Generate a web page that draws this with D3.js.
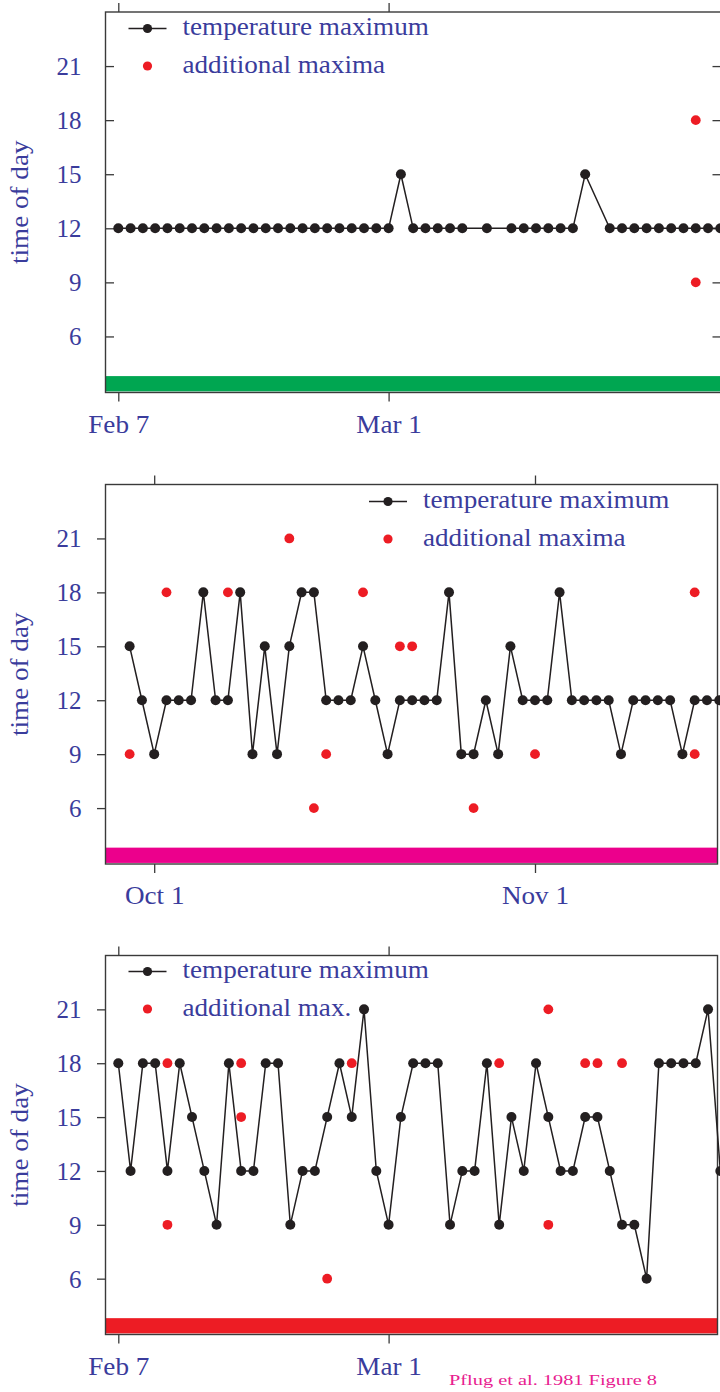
<!DOCTYPE html>
<html><head><meta charset="utf-8">
<script src="https://cdn.jsdelivr.net/npm/d3@7"></script>
<style>body{margin:0;background:#fff;} svg{display:block;}</style>
</head><body>
<svg id="c" width="720" height="1392"></svg>
<script>
// ---------------- data ----------------
const yTickValues = [6, 9, 12, 15, 18, 21];
const yLabel = "time of day";

const xTickDates1 = ["1981-02-07", "1981-03-01"];
const xTickLabels1 = ["Feb 7", "Mar 1"];
const xTickDates2 = ["1980-10-01", "1980-11-01"];
const xTickLabels2 = ["Oct 1", "Nov 1"];

// panel 1 (winter, daily from Feb 7); null = no observation
const start1 = "1981-02-07";
const temps1 = [12,12,12,12,12,12,12,12,12,12,12,12,12,12,12,12,12,12,12,12,12,12,12,
                15,12,12,12,12,12,null,12,null,12,12,12,12,12,12,15,null,
                12,12,12,12,12,12,12,12,12,12];
const extraDays1 = [47, 47];
const extraVals1 = [18, 9];
const legend1 = ["temperature maximum", "additional maxima"];

// panel 2 (autumn, daily from Sep 29)
const start2 = "1980-09-29";
const temps2 = [15,12,9,12,12,12,18,12,12,18,9,15,9,15,18,18,12,12,12,15,12,9,12,12,12,
                12,18,9,9,12,9,15,12,12,12,18,12,12,12,12,9,12,12,12,12,9,12,12,12];
const extraDays2 = [0, 3, 8, 13, 15, 16, 19, 22, 23, 28, 33, 46, 46];
const extraVals2 = [9, 18, 18, 21, 6, 9, 18, 15, 15, 6, 9, 18, 9];
const legend2 = ["temperature maximum", "additional maxima"];

// panel 3 (winter, daily from Feb 7)
const start3 = "1981-02-07";
const temps3 = [18,12,18,18,12,18,15,12,9,18,12,12,18,18,9,12,12,15,18,15,21,12,9,15,18,
                18,18,9,12,12,18,9,15,12,18,15,12,12,15,15,12,9,9,6,18,18,18,18,21,12];
const extraDays3 = [4, 4, 10, 10, 17, 19, 31, 35, 35, 38, 39, 41];
const extraVals3 = [18, 9, 18, 15, 6, 18, 18, 21, 9, 18, 18, 18];
const legend3 = ["temperature maximum", "additional max."];

const creditText = "Pflug et al. 1981 Figure 8";

// ---------------- drawing ----------------
const parse = d3.utcParse("%Y-%m-%d");
const svg = d3.select("#c");
const FONT = "Liberation Serif, Times New Roman, serif";
const BLUE = "#3a3c9c";
const INK = "#231f20";
const FRAME = "#3a3a3a";
const RED = "#ed1c24";
const STRETCH = 1.085;

// widen serif glyphs slightly to mimic the Computer Modern face of the original
function widen(sel) {
  sel.each(function () {
    const len = this.getComputedTextLength();
    if (len > 0) d3.select(this).attr("textLength", len * STRETCH)
      .attr("lengthAdjust", "spacingAndGlyphs");
  });
}

function panel(cfg) {
  const {top, bottom, left, right, xDomain, xRange, xTicks, xLabels, start, temps,
         exDays, exVals, legend, legendX, legendY, barColor, leftInward, rightTicks} = cfg;
  const g = svg.append("g");
  const x = d3.scaleUtc().domain(xDomain.map(parse)).range(xRange);
  const y = d3.scaleLinear().domain([2.89, 24]).range([bottom, top]);
  const s = parse(start);
  const day = i => d3.utcDay.offset(s, i);

  g.append("rect")
    .attr("x", left).attr("width", right - left)
    .attr("y", y(3.8)).attr("height", y(2.95) - y(3.8))
    .attr("fill", barColor);

  g.append("rect").attr("x", left).attr("y", top)
    .attr("width", right - left).attr("height", bottom - top)
    .attr("fill", "none").attr("stroke", FRAME).attr("stroke-width", 1.4);

  const tickDates = xTicks.map(parse);
  const ax = g.append("g").attr("transform", `translate(0,${bottom})`)
    .call(d3.axisBottom(x).tickValues(tickDates).tickSize(9)
      .tickFormat((d, i) => xLabels[i]));
  ax.select(".domain").remove();
  ax.selectAll("line").attr("stroke", FRAME).attr("stroke-width", 1.3);
  ax.selectAll("text").attr("y", 40).attr("dy", null)
    .attr("fill", BLUE).style("font-family", FONT).style("font-size", "25px").call(widen);

  const at = g.append("g").attr("transform", `translate(0,${top})`)
    .call(d3.axisTop(x).tickValues(tickDates).tickSize(9).tickFormat(""));
  at.select(".domain").remove();
  at.selectAll("line").attr("stroke", FRAME).attr("stroke-width", 1.3);

  const al = g.append("g").attr("transform", `translate(${left},0)`)
    .call(d3.axisLeft(y).tickValues(yTickValues).tickSize(leftInward ? -8.5 : 8.5));
  al.select(".domain").remove();
  al.selectAll("line").attr("stroke", FRAME).attr("stroke-width", 1.3);
  al.selectAll("text").attr("x", -24).attr("dy", "0.34em")
    .attr("fill", BLUE).style("font-family", FONT).style("font-size", "25px");

  if (rightTicks) {
    const ar = g.append("g").attr("transform", `translate(${right},0)`)
      .call(d3.axisRight(y).tickValues(yTickValues).tickSize(-8.5).tickFormat(""));
    ar.select(".domain").remove();
    ar.selectAll("line").attr("stroke", FRAME).attr("stroke-width", 1.3);
  }

  g.append("text")
    .attr("transform", `translate(28,${(top + bottom) / 2}) rotate(-90)`)
    .attr("text-anchor", "middle")
    .attr("fill", BLUE).style("font-family", FONT).style("font-size", "25px")
    .text(yLabel).call(widen);

  const pts = temps.map((v, i) => ({d: day(i), v})).filter(p => p.v !== null);
  g.append("path").datum(pts)
    .attr("d", d3.line().x(p => x(p.d)).y(p => y(p.v)))
    .attr("fill", "none").attr("stroke", INK).attr("stroke-width", 1.5);
  g.selectAll("circle.t").data(pts).join("circle").attr("class", "t")
    .attr("cx", p => x(p.d)).attr("cy", p => y(p.v)).attr("r", 5).attr("fill", INK);

  const ex = exDays.map((dI, i) => ({d: day(dI), v: exVals[i]}));
  g.selectAll("circle.e").data(ex).join("circle").attr("class", "e")
    .attr("cx", p => x(p.d)).attr("cy", p => y(p.v)).attr("r", 4.9).attr("fill", RED);

  const lg = g.append("g");
  lg.append("line").attr("x1", legendX - 19).attr("x2", legendX + 19)
    .attr("y1", legendY).attr("y2", legendY).attr("stroke", INK).attr("stroke-width", 1.5);
  lg.append("circle").attr("cx", legendX).attr("cy", legendY).attr("r", 4.6).attr("fill", INK);
  lg.append("circle").attr("cx", legendX).attr("cy", legendY + 37.5).attr("r", 4.6).attr("fill", RED);
  legend.forEach((t, i) => {
    lg.append("text").attr("x", legendX + 35).attr("y", legendY + 37.5 * i + 6.5)
      .attr("fill", BLUE).style("font-family", FONT).style("font-size", "25px").text(t)
      .call(widen);
  });
}

panel({top: 12, bottom: 392.5, left: 105.5, right: 721,
  xDomain: xTickDates1, xRange: [118.3, 388.6], xTicks: xTickDates1, xLabels: xTickLabels1,
  start: start1, temps: temps1, exDays: extraDays1, exVals: extraVals1,
  legend: legend1, legendX: 147.5, legendY: 28.5, barColor: "#00a651",
  leftInward: true, rightTicks: true});

panel({top: 484.5, bottom: 864, left: 105.5, right: 717.5,
  xDomain: xTickDates2, xRange: [154.2, 535], xTicks: xTickDates2, xLabels: xTickLabels2,
  start: start2, temps: temps2, exDays: extraDays2, exVals: extraVals2,
  legend: legend2, legendX: 388, legendY: 501.5, barColor: "#ec008c",
  leftInward: false, rightTicks: false});

panel({top: 955.5, bottom: 1334.5, left: 105.5, right: 717.5,
  xDomain: xTickDates1, xRange: [118.3, 388.6], xTicks: xTickDates1, xLabels: xTickLabels1,
  start: start3, temps: temps3, exDays: extraDays3, exVals: extraVals3,
  legend: legend3, legendX: 147.5, legendY: 971.5, barColor: "#ed1c24",
  leftInward: false, rightTicks: false});

svg.append("text").attr("x", 449).attr("y", 1385)
  .attr("textLength", 208).attr("lengthAdjust", "spacingAndGlyphs")
  .attr("fill", "#e8208f").style("font-family", FONT).style("font-size", "14px")
  .text(creditText);
</script>
</body></html>
